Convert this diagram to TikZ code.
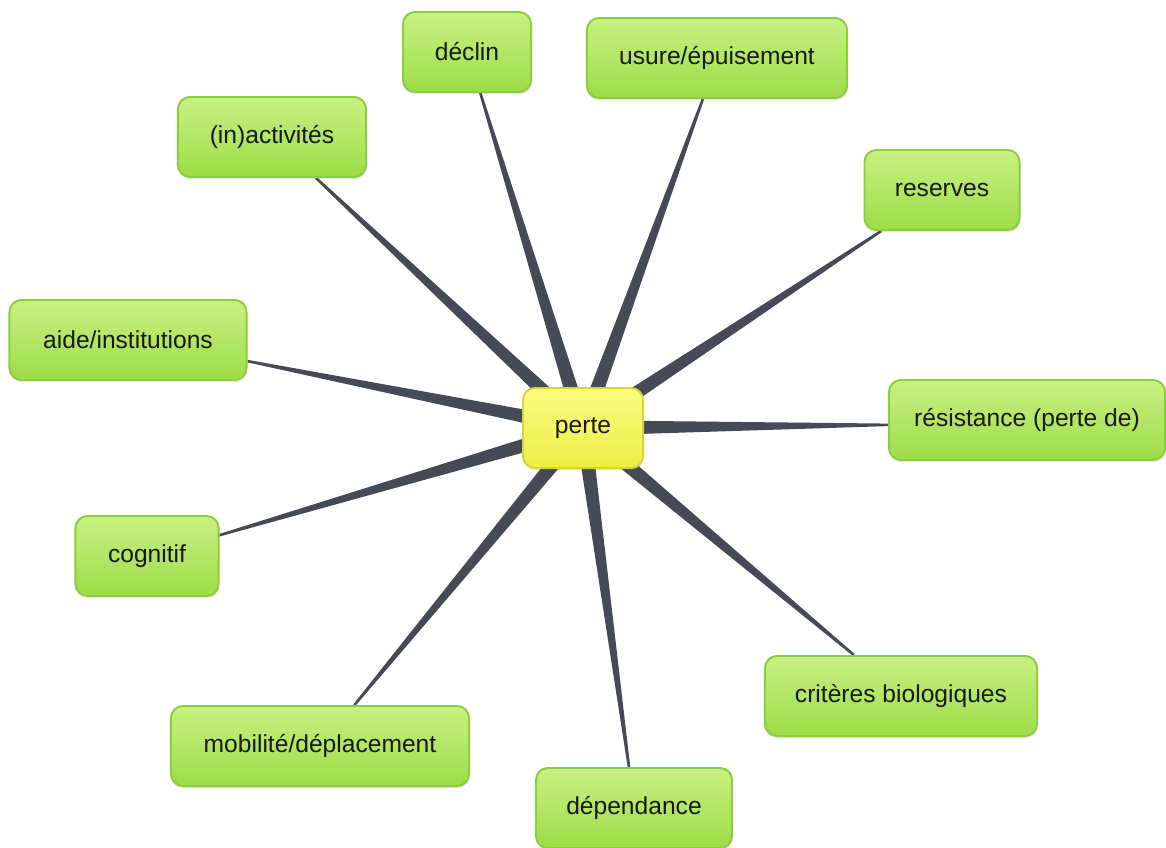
\documentclass[tikz,border=0pt]{standalone}
\usepackage{fontspec}
\setmainfont{Liberation Sans}
\usetikzlibrary{calc,backgrounds,shadows}
\definecolor{boxtop}{HTML}{C8F182}
\definecolor{boxbot}{HTML}{9DDC47}
\definecolor{boxline}{HTML}{8BCD3C}
\definecolor{midtop}{HTML}{FBFB82}
\definecolor{midbot}{HTML}{EDED45}
\definecolor{midline}{HTML}{D5D53A}
\definecolor{spokegray}{HTML}{464A56}
\tikzset{
  topic/.style={rectangle, rounded corners=0.3cm, draw=boxline, line width=1.4pt,
    top color=boxtop, bottom color=boxbot, minimum height=2cm,
    font=\fontsize{17.5}{20}\selectfont, text=black!90,
    drop shadow={opacity=0.2, shadow xshift=0.4pt, shadow yshift=-1.5pt}},
  hub/.style={topic, draw=midline, top color=midtop, bottom color=midbot},
  spoke/.style={fill=spokegray}
}
\begin{document}
\begin{tikzpicture}[x=0.025cm,y=-0.025cm]
\useasboundingbox (0,0) rectangle (1166,848);
% centre
\node [hub, minimum width=3cm] (perte) at (583,428) {perte};
% topics
\node [topic, minimum width=3.2cm] (declin) at (467,52) {déclin};
\node [topic, minimum width=6.5cm] (usure) at (717,58) {usure/épuisement};
\node [topic, minimum width=4.7cm] (inactivites) at (272,137) {(in)activités};
\node [topic, minimum width=3.875cm] (reserves) at (942,190) {reserves};
\node [topic, minimum width=5.925cm] (aide) at (128,340) {aide/institutions};
\node [topic, minimum width=6.9cm] (resistance) at (1027,420) {résistance (perte de)};
\node [topic, minimum width=3.575cm] (cognitif) at (147,556) {cognitif};
\node [topic, minimum width=6.8cm] (criteres) at (901,696) {critères biologiques};
\node [topic, minimum width=7.45cm] (mobilite) at (320,746) {mobilité/déplacement};
\node [topic, minimum width=4.9cm] (dependance) at (634,808) {dépendance};
% tapered links
\begin{scope}[on background layer]
\foreach \nd in {declin,usure,inactivites,reserves,aide,resistance,cognitif,criteres,mobilite,dependance}{
  \path let \p1=($(perte.center)-(\nd.center)$), \n1={atan2(\y1,\x1)} in coordinate (tip) at (\nd.\n1);
  \fill [spoke] ($(tip)!0.9pt!90:(perte.center)$) -- ($(perte.center)!5.5pt!-90:(tip)$)
    -- ($(perte.center)!5.5pt!90:(tip)$) -- ($(tip)!0.9pt!-90:(perte.center)$) -- cycle;
}
\end{scope}
\end{tikzpicture}
\end{document}
